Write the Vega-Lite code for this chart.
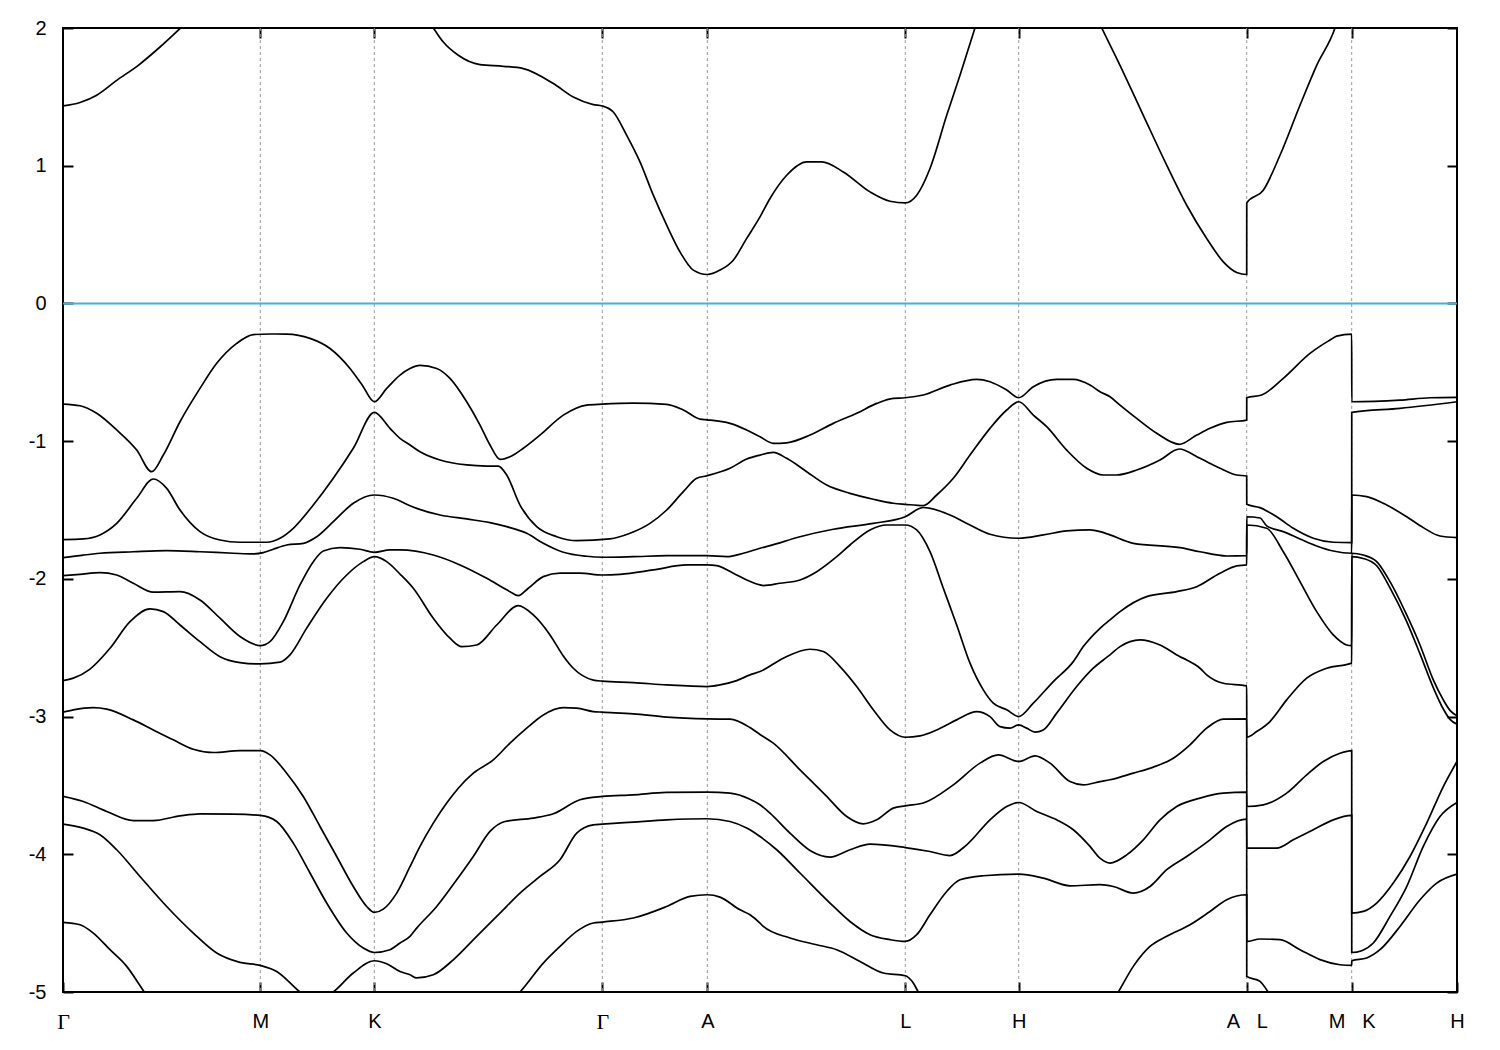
{
"$schema":"https://vega.github.io/schema/vega-lite/v6.json",
"width":1394,"height":964,
"autosize":{"type":"none"},
"padding":{"left":63,"top":28,"right":43,"bottom":58},
"background":"white",
"config":{"view":{"stroke":"black","strokeWidth":2},"axis":{"labelFont":"Liberation Sans","labelFontSize":20,"labelColor":"black","tickColor":"black","tickWidth":2,"domain":false,"grid":false}},
"datasets":{
"sym":[{"x":197.3},{"x":311.3},{"x":539.3},{"x":644.3},{"x":842.3},{"x":955.7},{"x":1183.7},{"x":1288.7}],
"zero":[{"e":0}],
"bands":[
{"b":"c1","x":0,"e":1.434},{"b":"c1","x":17,"e":1.459},{"b":"c1","x":33.7,"e":1.512},{"b":"c1","x":53.7,"e":1.62},{"b":"c1","x":75.3,"e":1.729},{"b":"c1","x":97,"e":1.862},{"b":"c1","x":117,"e":1.996},{"b":"c1","x":140,"e":2.15},{"b":"c1","x":200,"e":2.6},{"b":"c1","x":300,"e":2.6},{"b":"c1","x":350,"e":2.2},{"b":"c1","x":370.3,"e":2.0},{"b":"c1","x":380.3,"e":1.898},{"b":"c1","x":395.3,"e":1.802},{"b":"c1","x":417,"e":1.734},{"b":"c1","x":440.3,"e":1.722},{"b":"c1","x":460.3,"e":1.705},{"b":"c1","x":490.3,"e":1.597},{"b":"c1","x":510.3,"e":1.499},{"b":"c1","x":530.3,"e":1.444},{"b":"c1","x":539.3,"e":1.434},{"b":"c1","x":550.3,"e":1.39},{"b":"c1","x":563.7,"e":1.221},{"b":"c1","x":577,"e":1.028},{"b":"c1","x":590.3,"e":0.786},{"b":"c1","x":603.7,"e":0.568},{"b":"c1","x":617,"e":0.374},{"b":"c1","x":630.3,"e":0.242},{"b":"c1","x":644.3,"e":0.21},{"b":"c1","x":657,"e":0.242},{"b":"c1","x":670.3,"e":0.314},{"b":"c1","x":683.7,"e":0.472},{"b":"c1","x":697,"e":0.628},{"b":"c1","x":707,"e":0.762},{"b":"c1","x":723.7,"e":0.931},{"b":"c1","x":743.7,"e":1.028},{"b":"c1","x":758.7,"e":1.028},{"b":"c1","x":780.3,"e":0.955},{"b":"c1","x":807,"e":0.81},{"b":"c1","x":827,"e":0.742},{"b":"c1","x":842.3,"e":0.73},{"b":"c1","x":853.7,"e":0.786},{"b":"c1","x":867,"e":0.98},{"b":"c1","x":883.7,"e":1.366},{"b":"c1","x":897,"e":1.657},{"b":"c1","x":912,"e":2.0},{"b":"c1","x":927,"e":2.35},{"b":"c1","x":955.7,"e":2.7},{"b":"c1","x":997,"e":2.7},{"b":"c1","x":1022,"e":2.25},{"b":"c1","x":1038.7,"e":2.0},{"b":"c1","x":1057,"e":1.729},{"b":"c1","x":1080.3,"e":1.366},{"b":"c1","x":1103.7,"e":1.004},{"b":"c1","x":1123.7,"e":0.713},{"b":"c1","x":1143.7,"e":0.472},{"b":"c1","x":1160.3,"e":0.302},{"b":"c1","x":1173.7,"e":0.225},{"b":"c1","x":1183.7,"e":0.21},{"b":"c1","x":1183.75,"e":0.73},{"b":"c1","x":1200.3,"e":0.822},{"b":"c1","x":1217,"e":1.076},{"b":"c1","x":1237,"e":1.439},{"b":"c1","x":1253.7,"e":1.729},{"b":"c1","x":1272,"e":2.0},{"b":"c1","x":1282,"e":2.25},{"b":"c1","x":1288.7,"e":2.45},{"b":"c1","x":1288.75,"e":3.0},{"b":"c1","x":1394,"e":3.0},
{"b":"v1","x":0,"e":-0.731},{"b":"v1","x":17,"e":-0.743},{"b":"v1","x":33.7,"e":-0.798},{"b":"v1","x":53.7,"e":-0.919},{"b":"v1","x":73.7,"e":-1.065},{"b":"v1","x":88.7,"e":-1.222},{"b":"v1","x":100.3,"e":-1.101},{"b":"v1","x":117,"e":-0.859},{"b":"v1","x":137,"e":-0.617},{"b":"v1","x":153.7,"e":-0.435},{"b":"v1","x":173.7,"e":-0.29},{"b":"v1","x":190.3,"e":-0.226},{"b":"v1","x":207,"e":-0.222},{"b":"v1","x":223.7,"e":-0.223},{"b":"v1","x":247,"e":-0.254},{"b":"v1","x":267,"e":-0.327},{"b":"v1","x":287,"e":-0.472},{"b":"v1","x":299,"e":-0.59},{"b":"v1","x":311.3,"e":-0.714},{"b":"v1","x":323.7,"e":-0.617},{"b":"v1","x":337,"e":-0.52},{"b":"v1","x":347,"e":-0.472},{"b":"v1","x":357,"e":-0.45},{"b":"v1","x":373.7,"e":-0.472},{"b":"v1","x":387,"e":-0.544},{"b":"v1","x":403.7,"e":-0.714},{"b":"v1","x":417,"e":-0.883},{"b":"v1","x":427,"e":-1.028},{"b":"v1","x":437,"e":-1.132},{"b":"v1","x":447,"e":-1.113},{"b":"v1","x":460.3,"e":-1.052},{"b":"v1","x":477,"e":-0.956},{"b":"v1","x":500.3,"e":-0.811},{"b":"v1","x":523.7,"e":-0.738},{"b":"v1","x":539.3,"e":-0.731},{"b":"v1","x":570.3,"e":-0.724},{"b":"v1","x":603.7,"e":-0.733},{"b":"v1","x":620.3,"e":-0.774},{"b":"v1","x":637,"e":-0.84},{"b":"v1","x":644.3,"e":-0.845},{"b":"v1","x":667,"e":-0.871},{"b":"v1","x":683.7,"e":-0.919},{"b":"v1","x":697,"e":-0.968},{"b":"v1","x":710.3,"e":-1.016},{"b":"v1","x":723.7,"e":-1.012},{"b":"v1","x":747,"e":-0.956},{"b":"v1","x":770.3,"e":-0.871},{"b":"v1","x":793.7,"e":-0.798},{"b":"v1","x":813.7,"e":-0.726},{"b":"v1","x":830.3,"e":-0.689},{"b":"v1","x":842.3,"e":-0.685},{"b":"v1","x":860.3,"e":-0.665},{"b":"v1","x":887,"e":-0.593},{"b":"v1","x":913.7,"e":-0.552},{"b":"v1","x":927,"e":-0.569},{"b":"v1","x":943.7,"e":-0.629},{"b":"v1","x":955.7,"e":-0.685},{"b":"v1","x":970.3,"e":-0.605},{"b":"v1","x":993.7,"e":-0.552},{"b":"v1","x":1010.3,"e":-0.552},{"b":"v1","x":1027,"e":-0.593},{"b":"v1","x":1037,"e":-0.641},{"b":"v1","x":1047,"e":-0.678},{"b":"v1","x":1057,"e":-0.738},{"b":"v1","x":1073.7,"e":-0.835},{"b":"v1","x":1093.7,"e":-0.943},{"b":"v1","x":1116.3,"e":-1.023},{"b":"v1","x":1133.7,"e":-0.956},{"b":"v1","x":1147,"e":-0.907},{"b":"v1","x":1163.7,"e":-0.864},{"b":"v1","x":1183.7,"e":-0.847},{"b":"v1","x":1183.75,"e":-0.685},{"b":"v1","x":1198.7,"e":-0.665},{"b":"v1","x":1220.3,"e":-0.544},{"b":"v1","x":1247,"e":-0.363},{"b":"v1","x":1258.7,"e":-0.303},{"b":"v1","x":1267,"e":-0.266},{"b":"v1","x":1273.7,"e":-0.237},{"b":"v1","x":1288.7,"e":-0.223},{"b":"v1","x":1288.75,"e":-0.714},{"b":"v1","x":1337,"e":-0.702},{"b":"v1","x":1367,"e":-0.685},{"b":"v1","x":1394,"e":-0.682},
{"b":"v2","x":0,"e":-1.715},{"b":"v2","x":20.3,"e":-1.71},{"b":"v2","x":37,"e":-1.681},{"b":"v2","x":53.7,"e":-1.597},{"b":"v2","x":73.7,"e":-1.415},{"b":"v2","x":90.3,"e":-1.275},{"b":"v2","x":103.7,"e":-1.343},{"b":"v2","x":117,"e":-1.5},{"b":"v2","x":137,"e":-1.657},{"b":"v2","x":157,"e":-1.718},{"b":"v2","x":177,"e":-1.734},{"b":"v2","x":203.7,"e":-1.734},{"b":"v2","x":217,"e":-1.705},{"b":"v2","x":230.3,"e":-1.633},{"b":"v2","x":250.3,"e":-1.464},{"b":"v2","x":270.3,"e":-1.27},{"b":"v2","x":290.3,"e":-1.052},{"b":"v2","x":311.3,"e":-0.791},{"b":"v2","x":327,"e":-0.907},{"b":"v2","x":337,"e":-0.98},{"b":"v2","x":347,"e":-1.028},{"b":"v2","x":357,"e":-1.077},{"b":"v2","x":377,"e":-1.137},{"b":"v2","x":403.7,"e":-1.173},{"b":"v2","x":423.7,"e":-1.181},{"b":"v2","x":435.3,"e":-1.181},{"b":"v2","x":443.7,"e":-1.246},{"b":"v2","x":457,"e":-1.464},{"b":"v2","x":473.7,"e":-1.621},{"b":"v2","x":493.7,"e":-1.694},{"b":"v2","x":513.7,"e":-1.723},{"b":"v2","x":547,"e":-1.71},{"b":"v2","x":567,"e":-1.669},{"b":"v2","x":587,"e":-1.597},{"b":"v2","x":603.7,"e":-1.5},{"b":"v2","x":620.3,"e":-1.367},{"b":"v2","x":633.7,"e":-1.27},{"b":"v2","x":644.3,"e":-1.251},{"b":"v2","x":667,"e":-1.197},{"b":"v2","x":683.7,"e":-1.13},{"b":"v2","x":697,"e":-1.101},{"b":"v2","x":710.3,"e":-1.081},{"b":"v2","x":723.7,"e":-1.125},{"b":"v2","x":743.7,"e":-1.222},{"b":"v2","x":763.7,"e":-1.319},{"b":"v2","x":787,"e":-1.379},{"b":"v2","x":810.3,"e":-1.422},{"b":"v2","x":830.3,"e":-1.451},{"b":"v2","x":842.3,"e":-1.459},{"b":"v2","x":860.3,"e":-1.468},{"b":"v2","x":873.7,"e":-1.391},{"b":"v2","x":890.3,"e":-1.27},{"b":"v2","x":907,"e":-1.101},{"b":"v2","x":927,"e":-0.907},{"b":"v2","x":943.7,"e":-0.774},{"b":"v2","x":955.7,"e":-0.714},{"b":"v2","x":970.3,"e":-0.811},{"b":"v2","x":983.7,"e":-0.895},{"b":"v2","x":1003.7,"e":-1.065},{"b":"v2","x":1023.7,"e":-1.197},{"b":"v2","x":1040.3,"e":-1.246},{"b":"v2","x":1053.7,"e":-1.246},{"b":"v2","x":1073.7,"e":-1.21},{"b":"v2","x":1097,"e":-1.137},{"b":"v2","x":1116.3,"e":-1.057},{"b":"v2","x":1137,"e":-1.125},{"b":"v2","x":1157,"e":-1.197},{"b":"v2","x":1173.7,"e":-1.246},{"b":"v2","x":1183.7,"e":-1.253},{"b":"v2","x":1183.75,"e":-1.459},{"b":"v2","x":1197,"e":-1.483},{"b":"v2","x":1213.7,"e":-1.549},{"b":"v2","x":1230.3,"e":-1.633},{"b":"v2","x":1250.3,"e":-1.705},{"b":"v2","x":1270.3,"e":-1.734},{"b":"v2","x":1288.7,"e":-1.737},{"b":"v2","x":1288.75,"e":-0.791},{"b":"v2","x":1337,"e":-0.762},{"b":"v2","x":1394,"e":-0.714},
{"b":"v3","x":0,"e":-1.846},{"b":"v3","x":20.3,"e":-1.827},{"b":"v3","x":37,"e":-1.814},{"b":"v3","x":70.3,"e":-1.803},{"b":"v3","x":103.7,"e":-1.795},{"b":"v3","x":137,"e":-1.803},{"b":"v3","x":170.3,"e":-1.814},{"b":"v3","x":190.3,"e":-1.819},{"b":"v3","x":200.3,"e":-1.81},{"b":"v3","x":210.3,"e":-1.785},{"b":"v3","x":223.7,"e":-1.754},{"b":"v3","x":240.3,"e":-1.742},{"b":"v3","x":253.7,"e":-1.694},{"b":"v3","x":270.3,"e":-1.585},{"b":"v3","x":290.3,"e":-1.451},{"b":"v3","x":311.3,"e":-1.391},{"b":"v3","x":330.3,"e":-1.415},{"b":"v3","x":347,"e":-1.469},{"b":"v3","x":353.7,"e":-1.488},{"b":"v3","x":377,"e":-1.536},{"b":"v3","x":403.7,"e":-1.565},{"b":"v3","x":427,"e":-1.592},{"b":"v3","x":443.7,"e":-1.621},{"b":"v3","x":463.7,"e":-1.669},{"b":"v3","x":480.3,"e":-1.742},{"b":"v3","x":500.3,"e":-1.807},{"b":"v3","x":523.7,"e":-1.836},{"b":"v3","x":539.3,"e":-1.843},{"b":"v3","x":570.3,"e":-1.839},{"b":"v3","x":603.7,"e":-1.832},{"b":"v3","x":644.3,"e":-1.832},{"b":"v3","x":663.7,"e":-1.839},{"b":"v3","x":680.3,"e":-1.814},{"b":"v3","x":697,"e":-1.778},{"b":"v3","x":707,"e":-1.759},{"b":"v3","x":737,"e":-1.694},{"b":"v3","x":770.3,"e":-1.64},{"b":"v3","x":810.3,"e":-1.597},{"b":"v3","x":842.3,"e":-1.549},{"b":"v3","x":860.3,"e":-1.482},{"b":"v3","x":887,"e":-1.536},{"b":"v3","x":907,"e":-1.609},{"b":"v3","x":927,"e":-1.676},{"b":"v3","x":955.7,"e":-1.705},{"b":"v3","x":980.3,"e":-1.681},{"b":"v3","x":1003.7,"e":-1.652},{"b":"v3","x":1027,"e":-1.645},{"b":"v3","x":1037,"e":-1.657},{"b":"v3","x":1047,"e":-1.681},{"b":"v3","x":1070.3,"e":-1.742},{"b":"v3","x":1117,"e":-1.773},{"b":"v3","x":1137,"e":-1.803},{"b":"v3","x":1163.7,"e":-1.834},{"b":"v3","x":1183.7,"e":-1.832},{"b":"v3","x":1183.75,"e":-1.549},{"b":"v3","x":1197,"e":-1.558},{"b":"v3","x":1203.7,"e":-1.615},{"b":"v3","x":1220.3,"e":-1.657},{"b":"v3","x":1237,"e":-1.71},{"b":"v3","x":1253.7,"e":-1.761},{"b":"v3","x":1270.3,"e":-1.798},{"b":"v3","x":1288.7,"e":-1.814},{"b":"v3","x":1288.75,"e":-1.391},{"b":"v3","x":1303.7,"e":-1.403},{"b":"v3","x":1323.7,"e":-1.464},{"b":"v3","x":1343.7,"e":-1.549},{"b":"v3","x":1360.3,"e":-1.628},{"b":"v3","x":1377,"e":-1.689},{"b":"v3","x":1394,"e":-1.701},
{"b":"v4","x":0,"e":-1.977},{"b":"v4","x":17,"e":-1.967},{"b":"v4","x":37,"e":-1.955},{"b":"v4","x":53.7,"e":-1.972},{"b":"v4","x":70.3,"e":-2.032},{"b":"v4","x":90.3,"e":-2.097},{"b":"v4","x":117,"e":-2.093},{"b":"v4","x":137,"e":-2.153},{"b":"v4","x":157,"e":-2.286},{"b":"v4","x":177,"e":-2.419},{"b":"v4","x":197.3,"e":-2.485},{"b":"v4","x":207,"e":-2.456},{"b":"v4","x":220.3,"e":-2.311},{"b":"v4","x":237,"e":-2.044},{"b":"v4","x":250.3,"e":-1.875},{"b":"v4","x":260.3,"e":-1.798},{"b":"v4","x":277,"e":-1.773},{"b":"v4","x":297,"e":-1.785},{"b":"v4","x":311.3,"e":-1.807},{"b":"v4","x":327,"e":-1.79},{"b":"v4","x":337,"e":-1.79},{"b":"v4","x":370.3,"e":-1.827},{"b":"v4","x":397,"e":-1.899},{"b":"v4","x":423.7,"e":-1.996},{"b":"v4","x":447,"e":-2.093},{"b":"v4","x":455.3,"e":-2.122},{"b":"v4","x":465.3,"e":-2.068},{"b":"v4","x":480.3,"e":-1.984},{"b":"v4","x":497,"e":-1.959},{"b":"v4","x":517,"e":-1.959},{"b":"v4","x":539.3,"e":-1.972},{"b":"v4","x":557,"e":-1.967},{"b":"v4","x":590.3,"e":-1.935},{"b":"v4","x":623.7,"e":-1.899},{"b":"v4","x":644.3,"e":-1.899},{"b":"v4","x":653.7,"e":-1.904},{"b":"v4","x":670.3,"e":-1.959},{"b":"v4","x":683.7,"e":-2.008},{"b":"v4","x":697,"e":-2.044},{"b":"v4","x":700.3,"e":-2.049},{"b":"v4","x":717,"e":-2.032},{"b":"v4","x":737,"e":-2.008},{"b":"v4","x":753.7,"e":-1.948},{"b":"v4","x":773.7,"e":-1.839},{"b":"v4","x":787,"e":-1.754},{"b":"v4","x":807,"e":-1.645},{"b":"v4","x":823.7,"e":-1.609},{"b":"v4","x":842.3,"e":-1.609},{"b":"v4","x":853.7,"e":-1.645},{"b":"v4","x":867,"e":-1.803},{"b":"v4","x":880.3,"e":-2.068},{"b":"v4","x":893.7,"e":-2.335},{"b":"v4","x":907,"e":-2.612},{"b":"v4","x":920.3,"e":-2.806},{"b":"v4","x":930.3,"e":-2.903},{"b":"v4","x":943.7,"e":-2.951},{"b":"v4","x":955.7,"e":-3.0},{"b":"v4","x":970.3,"e":-2.903},{"b":"v4","x":990.3,"e":-2.746},{"b":"v4","x":1010.3,"e":-2.601},{"b":"v4","x":1020.3,"e":-2.492},{"b":"v4","x":1037,"e":-2.359},{"b":"v4","x":1047,"e":-2.298},{"b":"v4","x":1057,"e":-2.238},{"b":"v4","x":1083.7,"e":-2.129},{"b":"v4","x":1113.7,"e":-2.093},{"b":"v4","x":1133.7,"e":-2.057},{"b":"v4","x":1157,"e":-1.959},{"b":"v4","x":1173.7,"e":-1.906},{"b":"v4","x":1183.7,"e":-1.899},{"b":"v4","x":1183.75,"e":-1.609},{"b":"v4","x":1203.7,"e":-1.633},{"b":"v4","x":1220.3,"e":-1.803},{"b":"v4","x":1237,"e":-2.02},{"b":"v4","x":1253.7,"e":-2.238},{"b":"v4","x":1270.3,"e":-2.407},{"b":"v4","x":1283.7,"e":-2.48},{"b":"v4","x":1288.7,"e":-2.485},{"b":"v4","x":1288.75,"e":-1.814},{"b":"v4","x":1300.3,"e":-1.827},{"b":"v4","x":1313.7,"e":-1.875},{"b":"v4","x":1327,"e":-2.02},{"b":"v4","x":1343.7,"e":-2.262},{"b":"v4","x":1357,"e":-2.48},{"b":"v4","x":1370.3,"e":-2.734},{"b":"v4","x":1380.3,"e":-2.879},{"b":"v4","x":1387,"e":-2.955},{"b":"v4","x":1394,"e":-2.995},
{"b":"v5","x":0,"e":-2.739},{"b":"v5","x":10.3,"e":-2.721},{"b":"v5","x":27,"e":-2.655},{"b":"v5","x":47,"e":-2.504},{"b":"v5","x":67,"e":-2.311},{"b":"v5","x":87,"e":-2.218},{"b":"v5","x":100.3,"e":-2.238},{"b":"v5","x":117,"e":-2.335},{"b":"v5","x":137,"e":-2.456},{"b":"v5","x":157,"e":-2.565},{"b":"v5","x":177,"e":-2.608},{"b":"v5","x":197,"e":-2.618},{"b":"v5","x":217,"e":-2.605},{"b":"v5","x":227,"e":-2.552},{"b":"v5","x":243.7,"e":-2.358},{"b":"v5","x":263.7,"e":-2.141},{"b":"v5","x":283.7,"e":-1.972},{"b":"v5","x":300.3,"e":-1.875},{"b":"v5","x":311.3,"e":-1.839},{"b":"v5","x":323.7,"e":-1.875},{"b":"v5","x":337,"e":-1.965},{"b":"v5","x":350.3,"e":-2.068},{"b":"v5","x":370.3,"e":-2.286},{"b":"v5","x":387,"e":-2.431},{"b":"v5","x":398.7,"e":-2.492},{"b":"v5","x":413.7,"e":-2.48},{"b":"v5","x":433.7,"e":-2.335},{"b":"v5","x":455.3,"e":-2.194},{"b":"v5","x":470.3,"e":-2.262},{"b":"v5","x":487,"e":-2.407},{"b":"v5","x":500.3,"e":-2.56},{"b":"v5","x":510.3,"e":-2.649},{"b":"v5","x":530.3,"e":-2.735},{"b":"v5","x":539.3,"e":-2.743},{"b":"v5","x":570.3,"e":-2.753},{"b":"v5","x":603.7,"e":-2.77},{"b":"v5","x":644.3,"e":-2.782},{"b":"v5","x":657,"e":-2.77},{"b":"v5","x":673.7,"e":-2.739},{"b":"v5","x":687,"e":-2.697},{"b":"v5","x":697,"e":-2.673},{"b":"v5","x":720.3,"e":-2.576},{"b":"v5","x":747,"e":-2.511},{"b":"v5","x":760.3,"e":-2.528},{"b":"v5","x":777,"e":-2.637},{"b":"v5","x":793.7,"e":-2.782},{"b":"v5","x":810.3,"e":-2.951},{"b":"v5","x":827,"e":-3.097},{"b":"v5","x":842.3,"e":-3.15},{"b":"v5","x":857,"e":-3.14},{"b":"v5","x":873.7,"e":-3.097},{"b":"v5","x":893.7,"e":-3.024},{"b":"v5","x":913.7,"e":-2.964},{"b":"v5","x":927,"e":-3.0},{"b":"v5","x":937,"e":-3.073},{"b":"v5","x":947,"e":-3.084},{"b":"v5","x":955.7,"e":-3.06},{"b":"v5","x":963.7,"e":-3.084},{"b":"v5","x":972,"e":-3.113},{"b":"v5","x":980.3,"e":-3.097},{"b":"v5","x":993.7,"e":-2.975},{"b":"v5","x":1013.7,"e":-2.782},{"b":"v5","x":1030.3,"e":-2.649},{"b":"v5","x":1040.3,"e":-2.589},{"b":"v5","x":1047,"e":-2.552},{"b":"v5","x":1057,"e":-2.492},{"b":"v5","x":1077,"e":-2.443},{"b":"v5","x":1097,"e":-2.48},{"b":"v5","x":1117,"e":-2.565},{"b":"v5","x":1123.7,"e":-2.589},{"b":"v5","x":1137,"e":-2.649},{"b":"v5","x":1143.7,"e":-2.697},{"b":"v5","x":1160.3,"e":-2.758},{"b":"v5","x":1183.7,"e":-2.777},{"b":"v5","x":1183.75,"e":-3.15},{"b":"v5","x":1193.7,"e":-3.109},{"b":"v5","x":1207,"e":-3.036},{"b":"v5","x":1223.7,"e":-2.879},{"b":"v5","x":1243.7,"e":-2.721},{"b":"v5","x":1263.7,"e":-2.649},{"b":"v5","x":1288.7,"e":-2.612},{"b":"v5","x":1288.75,"e":-1.839},{"b":"v5","x":1300.3,"e":-1.852},{"b":"v5","x":1313.7,"e":-1.905},{"b":"v5","x":1327,"e":-2.065},{"b":"v5","x":1343.7,"e":-2.31},{"b":"v5","x":1357,"e":-2.545},{"b":"v5","x":1370.3,"e":-2.79},{"b":"v5","x":1380.3,"e":-2.945},{"b":"v5","x":1387,"e":-3.02},{"b":"v5","x":1394,"e":-3.055},
{"b":"v6","x":0,"e":-2.968},{"b":"v6","x":10.3,"e":-2.951},{"b":"v6","x":30.3,"e":-2.935},{"b":"v6","x":43.7,"e":-2.946},{"b":"v6","x":70.3,"e":-3.024},{"b":"v6","x":90.3,"e":-3.097},{"b":"v6","x":110.3,"e":-3.169},{"b":"v6","x":130.3,"e":-3.237},{"b":"v6","x":150.3,"e":-3.261},{"b":"v6","x":177,"e":-3.247},{"b":"v6","x":197.3,"e":-3.247},{"b":"v6","x":207,"e":-3.278},{"b":"v6","x":223.7,"e":-3.411},{"b":"v6","x":240.3,"e":-3.58},{"b":"v6","x":257,"e":-3.798},{"b":"v6","x":273.7,"e":-4.016},{"b":"v6","x":290.3,"e":-4.234},{"b":"v6","x":303.7,"e":-4.379},{"b":"v6","x":311.3,"e":-4.422},{"b":"v6","x":320.3,"e":-4.398},{"b":"v6","x":333.7,"e":-4.282},{"b":"v6","x":347,"e":-4.09},{"b":"v6","x":357,"e":-3.943},{"b":"v6","x":370.3,"e":-3.774},{"b":"v6","x":383.7,"e":-3.628},{"b":"v6","x":395.3,"e":-3.52},{"b":"v6","x":410.3,"e":-3.411},{"b":"v6","x":430.3,"e":-3.314},{"b":"v6","x":447,"e":-3.193},{"b":"v6","x":463.7,"e":-3.084},{"b":"v6","x":480.3,"e":-2.988},{"b":"v6","x":500.3,"e":-2.935},{"b":"v6","x":513.7,"e":-2.939},{"b":"v6","x":530.3,"e":-2.964},{"b":"v6","x":539.3,"e":-2.968},{"b":"v6","x":570.3,"e":-2.98},{"b":"v6","x":603.7,"e":-3.004},{"b":"v6","x":644.3,"e":-3.017},{"b":"v6","x":667,"e":-3.019},{"b":"v6","x":687,"e":-3.08},{"b":"v6","x":697,"e":-3.13},{"b":"v6","x":710.3,"e":-3.193},{"b":"v6","x":737,"e":-3.387},{"b":"v6","x":763.7,"e":-3.58},{"b":"v6","x":783.7,"e":-3.726},{"b":"v6","x":800.3,"e":-3.779},{"b":"v6","x":813.7,"e":-3.75},{"b":"v6","x":830.3,"e":-3.665},{"b":"v6","x":842.3,"e":-3.648},{"b":"v6","x":860.3,"e":-3.628},{"b":"v6","x":890.3,"e":-3.496},{"b":"v6","x":917,"e":-3.338},{"b":"v6","x":935.3,"e":-3.278},{"b":"v6","x":955.7,"e":-3.326},{"b":"v6","x":972,"e":-3.285},{"b":"v6","x":987,"e":-3.338},{"b":"v6","x":1007,"e":-3.472},{"b":"v6","x":1020.3,"e":-3.496},{"b":"v6","x":1037,"e":-3.472},{"b":"v6","x":1047,"e":-3.459},{"b":"v6","x":1070.3,"e":-3.411},{"b":"v6","x":1090.3,"e":-3.367},{"b":"v6","x":1110.3,"e":-3.302},{"b":"v6","x":1127,"e":-3.205},{"b":"v6","x":1143.7,"e":-3.084},{"b":"v6","x":1160.3,"e":-3.019},{"b":"v6","x":1183.7,"e":-3.017},{"b":"v6","x":1183.75,"e":-3.653},{"b":"v6","x":1200.3,"e":-3.641},{"b":"v6","x":1223.7,"e":-3.556},{"b":"v6","x":1243.7,"e":-3.423},{"b":"v6","x":1260.3,"e":-3.326},{"b":"v6","x":1277,"e":-3.266},{"b":"v6","x":1288.7,"e":-3.247},{"b":"v6","x":1288.75,"e":-4.427},{"b":"v6","x":1300.3,"e":-4.415},{"b":"v6","x":1313.7,"e":-4.354},{"b":"v6","x":1330.3,"e":-4.209},{"b":"v6","x":1347,"e":-4.016},{"b":"v6","x":1363.7,"e":-3.774},{"b":"v6","x":1380.3,"e":-3.508},{"b":"v6","x":1394,"e":-3.326},
{"b":"v7","x":0,"e":-3.58},{"b":"v7","x":20.3,"e":-3.617},{"b":"v7","x":43.7,"e":-3.689},{"b":"v7","x":70.3,"e":-3.755},{"b":"v7","x":90.3,"e":-3.755},{"b":"v7","x":117,"e":-3.721},{"b":"v7","x":137,"e":-3.706},{"b":"v7","x":170.3,"e":-3.708},{"b":"v7","x":197.3,"e":-3.718},{"b":"v7","x":213.7,"e":-3.762},{"b":"v7","x":230.3,"e":-3.919},{"b":"v7","x":247,"e":-4.136},{"b":"v7","x":263.7,"e":-4.354},{"b":"v7","x":283.7,"e":-4.572},{"b":"v7","x":300.3,"e":-4.681},{"b":"v7","x":311.3,"e":-4.713},{"b":"v7","x":327,"e":-4.693},{"b":"v7","x":337,"e":-4.644},{"b":"v7","x":347,"e":-4.596},{"b":"v7","x":353.7,"e":-4.536},{"b":"v7","x":373.7,"e":-4.379},{"b":"v7","x":393.7,"e":-4.185},{"b":"v7","x":410.3,"e":-4.016},{"b":"v7","x":427,"e":-3.834},{"b":"v7","x":442,"e":-3.762},{"b":"v7","x":470.3,"e":-3.737},{"b":"v7","x":490.3,"e":-3.706},{"b":"v7","x":517,"e":-3.604},{"b":"v7","x":539.3,"e":-3.58},{"b":"v7","x":570.3,"e":-3.568},{"b":"v7","x":603.7,"e":-3.551},{"b":"v7","x":644.3,"e":-3.549},{"b":"v7","x":667,"e":-3.556},{"b":"v7","x":687,"e":-3.6},{"b":"v7","x":697,"e":-3.64},{"b":"v7","x":707,"e":-3.701},{"b":"v7","x":727,"e":-3.846},{"b":"v7","x":747,"e":-3.972},{"b":"v7","x":767,"e":-4.02},{"b":"v7","x":787,"e":-3.967},{"b":"v7","x":807,"e":-3.926},{"b":"v7","x":842.3,"e":-3.951},{"b":"v7","x":867,"e":-3.98},{"b":"v7","x":887,"e":-4.009},{"b":"v7","x":903.7,"e":-3.931},{"b":"v7","x":927,"e":-3.75},{"b":"v7","x":943.7,"e":-3.653},{"b":"v7","x":955.7,"e":-3.624},{"b":"v7","x":973.7,"e":-3.689},{"b":"v7","x":993.7,"e":-3.75},{"b":"v7","x":1010.3,"e":-3.822},{"b":"v7","x":1027,"e":-3.943},{"b":"v7","x":1037,"e":-4.028},{"b":"v7","x":1047,"e":-4.064},{"b":"v7","x":1063.7,"e":-4.004},{"b":"v7","x":1080.3,"e":-3.895},{"b":"v7","x":1097,"e":-3.75},{"b":"v7","x":1113.7,"e":-3.653},{"b":"v7","x":1137,"e":-3.592},{"b":"v7","x":1160.3,"e":-3.556},{"b":"v7","x":1183.7,"e":-3.549},{"b":"v7","x":1183.75,"e":-3.955},{"b":"v7","x":1213.7,"e":-3.955},{"b":"v7","x":1230.3,"e":-3.895},{"b":"v7","x":1250.3,"e":-3.822},{"b":"v7","x":1270.3,"e":-3.75},{"b":"v7","x":1288.7,"e":-3.718},{"b":"v7","x":1288.75,"e":-4.713},{"b":"v7","x":1298.7,"e":-4.7},{"b":"v7","x":1310.3,"e":-4.644},{"b":"v7","x":1327,"e":-4.451},{"b":"v7","x":1343.7,"e":-4.234},{"b":"v7","x":1360.3,"e":-3.943},{"b":"v7","x":1377,"e":-3.726},{"b":"v7","x":1394,"e":-3.624},
{"b":"v8","x":0,"e":-3.781},{"b":"v8","x":20.3,"e":-3.81},{"b":"v8","x":37,"e":-3.858},{"b":"v8","x":53.7,"e":-3.967},{"b":"v8","x":77,"e":-4.161},{"b":"v8","x":103.7,"e":-4.379},{"b":"v8","x":130.3,"e":-4.572},{"b":"v8","x":153.7,"e":-4.717},{"b":"v8","x":177,"e":-4.785},{"b":"v8","x":197.3,"e":-4.807},{"b":"v8","x":213.7,"e":-4.851},{"b":"v8","x":237,"e":-5.0},{"b":"v8","x":253,"e":-5.08},{"b":"v8","x":270.3,"e":-5.0},{"b":"v8","x":290.3,"e":-4.862},{"b":"v8","x":311.3,"e":-4.773},{"b":"v8","x":323.7,"e":-4.795},{"b":"v8","x":337,"e":-4.851},{"b":"v8","x":347,"e":-4.875},{"b":"v8","x":353.7,"e":-4.898},{"b":"v8","x":370.3,"e":-4.875},{"b":"v8","x":390.3,"e":-4.766},{"b":"v8","x":413.7,"e":-4.596},{"b":"v8","x":437,"e":-4.427},{"b":"v8","x":457,"e":-4.282},{"b":"v8","x":477,"e":-4.161},{"b":"v8","x":497,"e":-4.04},{"b":"v8","x":513.7,"e":-3.846},{"b":"v8","x":530.3,"e":-3.786},{"b":"v8","x":539.3,"e":-3.781},{"b":"v8","x":570.3,"e":-3.766},{"b":"v8","x":603.7,"e":-3.75},{"b":"v8","x":644.3,"e":-3.742},{"b":"v8","x":667,"e":-3.762},{"b":"v8","x":683.7,"e":-3.81},{"b":"v8","x":697,"e":-3.871},{"b":"v8","x":713.7,"e":-3.967},{"b":"v8","x":737,"e":-4.136},{"b":"v8","x":767,"e":-4.354},{"b":"v8","x":787,"e":-4.488},{"b":"v8","x":807,"e":-4.584},{"b":"v8","x":827,"e":-4.62},{"b":"v8","x":842.3,"e":-4.633},{"b":"v8","x":853.7,"e":-4.584},{"b":"v8","x":867,"e":-4.439},{"b":"v8","x":883.7,"e":-4.27},{"b":"v8","x":897,"e":-4.185},{"b":"v8","x":920.3,"e":-4.156},{"b":"v8","x":955.7,"e":-4.144},{"b":"v8","x":980.3,"e":-4.173},{"b":"v8","x":1007,"e":-4.229},{"b":"v8","x":1037,"e":-4.221},{"b":"v8","x":1050.3,"e":-4.234},{"b":"v8","x":1070.3,"e":-4.282},{"b":"v8","x":1087,"e":-4.234},{"b":"v8","x":1103.7,"e":-4.112},{"b":"v8","x":1123.7,"e":-4.016},{"b":"v8","x":1147,"e":-3.895},{"b":"v8","x":1163.7,"e":-3.798},{"b":"v8","x":1183.7,"e":-3.745},{"b":"v8","x":1183.75,"e":-4.633},{"b":"v8","x":1197,"e":-4.615},{"b":"v8","x":1217,"e":-4.62},{"b":"v8","x":1237,"e":-4.693},{"b":"v8","x":1257,"e":-4.765},{"b":"v8","x":1277,"e":-4.802},{"b":"v8","x":1288.7,"e":-4.807},{"b":"v8","x":1288.75,"e":-4.773},{"b":"v8","x":1303.7,"e":-4.753},{"b":"v8","x":1317,"e":-4.693},{"b":"v8","x":1337,"e":-4.524},{"b":"v8","x":1357,"e":-4.33},{"b":"v8","x":1373.7,"e":-4.209},{"b":"v8","x":1394,"e":-4.144},
{"b":"v9","x":0,"e":-4.495},{"b":"v9","x":17,"e":-4.512},{"b":"v9","x":30.3,"e":-4.572},{"b":"v9","x":47,"e":-4.693},{"b":"v9","x":63.7,"e":-4.814},{"b":"v9","x":81.3,"e":-5.0},{"b":"v9","x":107,"e":-5.25},{"b":"v9","x":237,"e":-5.5},{"b":"v9","x":387,"e":-5.3},{"b":"v9","x":457,"e":-5.0},{"b":"v9","x":480.3,"e":-4.79},{"b":"v9","x":497,"e":-4.669},{"b":"v9","x":513.7,"e":-4.56},{"b":"v9","x":530.3,"e":-4.499},{"b":"v9","x":539.3,"e":-4.492},{"b":"v9","x":570.3,"e":-4.463},{"b":"v9","x":603.7,"e":-4.379},{"b":"v9","x":627,"e":-4.306},{"b":"v9","x":644.3,"e":-4.294},{"b":"v9","x":657,"e":-4.311},{"b":"v9","x":677,"e":-4.403},{"b":"v9","x":687,"e":-4.439},{"b":"v9","x":697,"e":-4.5},{"b":"v9","x":700.3,"e":-4.524},{"b":"v9","x":727,"e":-4.608},{"b":"v9","x":753.7,"e":-4.657},{"b":"v9","x":773.7,"e":-4.693},{"b":"v9","x":797,"e":-4.778},{"b":"v9","x":820.3,"e":-4.862},{"b":"v9","x":842.3,"e":-4.882},{"b":"v9","x":850.3,"e":-4.935},{"b":"v9","x":855.3,"e":-5.0},{"b":"v9","x":877,"e":-5.2},{"b":"v9","x":955.7,"e":-5.4},{"b":"v9","x":1037,"e":-5.2},{"b":"v9","x":1055.3,"e":-5.0},{"b":"v9","x":1070.3,"e":-4.814},{"b":"v9","x":1087,"e":-4.669},{"b":"v9","x":1103.7,"e":-4.596},{"b":"v9","x":1127,"e":-4.512},{"b":"v9","x":1147,"e":-4.415},{"b":"v9","x":1163.7,"e":-4.33},{"b":"v9","x":1183.7,"e":-4.294},{"b":"v9","x":1183.75,"e":-4.887},{"b":"v9","x":1197,"e":-4.923},{"b":"v9","x":1205.3,"e":-5.0},{"b":"v9","x":1227,"e":-5.2},{"b":"v9","x":1288.7,"e":-5.3},{"b":"v9","x":1394,"e":-5.3}
]},
"layer":[
{"data":{"name":"sym"},"mark":{"type":"rule","color":"#9a9a9a","strokeWidth":1,"strokeDash":[3,3]},
 "encoding":{"x":{"field":"x","type":"quantitative","scale":{"domain":[0,1394],"nice":false,"zero":false},
  "axis":{"orient":"top","values":[197.3,311.3,539.3,644.3,842.3,955.7,1183.7,1288.7],"labels":false,"ticks":true,"tickSize":-10,"title":null}}}},
{"data":{"name":"zero"},"mark":{"type":"rule","color":"#4fa8e0","strokeWidth":2},
 "encoding":{"y":{"field":"e","type":"quantitative","scale":{"domain":[-5,2],"nice":false,"zero":false},
  "axis":{"orient":"right","values":[-5,-4,-3,-2,-1,0,1,2],"labels":false,"ticks":true,"tickSize":-10,"title":null}}}},
{"data":{"name":"bands"},"mark":{"type":"line","color":"black","strokeWidth":1.7,"interpolate":"monotone","clip":true},
 "encoding":{
  "x":{"field":"x","type":"quantitative","scale":{"domain":[0,1394],"nice":false,"zero":false},
   "axis":{"orient":"bottom","values":[0,197.3,311.3,539.3,644.3,842.3,955.7,1183.7,1288.7,1394],"tickSize":-10,"labelPadding":29,"labelFlush":false,"labelOverlap":false,"labelBound":false,"title":null,
    "labelExpr":"datum.value < 1 ? 'Γ' : datum.value < 200 ? 'M' : datum.value < 400 ? 'K' : datum.value < 600 ? 'Γ' : datum.value < 700 ? 'A' : datum.value < 900 ? 'L' : datum.value < 1000 ? 'H' : datum.value < 1200 ? 'A\u00a0\u00a0\u00a0L' : datum.value < 1300 ? 'M\u00a0\u00a0\u00a0K' : 'H'",
    "labelFont":{"condition":{"test":"datum.value < 1 || (datum.value > 500 && datum.value < 600)","value":"Liberation Serif"},"value":"Liberation Sans"},
    "labelFontSize":{"condition":{"test":"datum.value < 1 || (datum.value > 500 && datum.value < 600)","value":22},"value":20}}},
  "y":{"field":"e","type":"quantitative","scale":{"domain":[-5,2],"nice":false,"zero":false},
   "axis":{"orient":"left","values":[-5,-4,-3,-2,-1,0,1,2],"tickSize":-10,"labelPadding":27,"labelExpr":"'' + datum.value","title":null}},
  "detail":{"field":"b"}}}
],
"resolve":{"axis":{"x":"independent","y":"independent"}}
}
